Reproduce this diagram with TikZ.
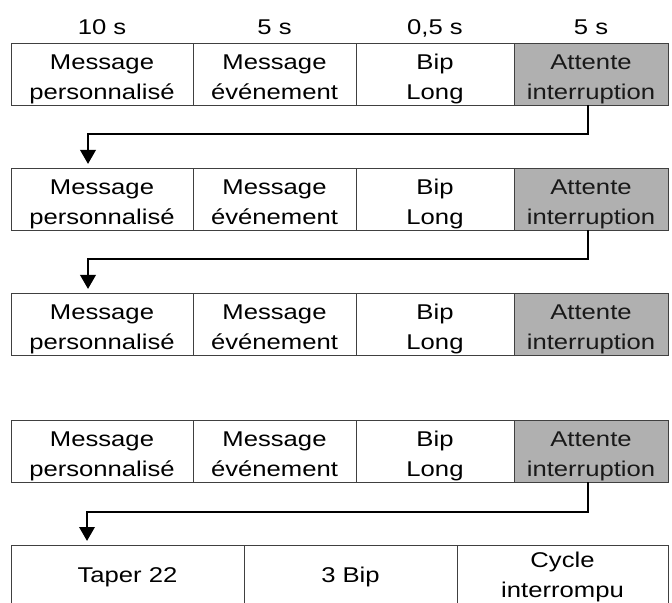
\documentclass[tikz,border=0pt]{standalone}
\usepackage{fontspec}
\setmainfont{Liberation Sans}[FakeStretch=1.2]
\usetikzlibrary{arrows.meta}
\definecolor{waitgray}{RGB}{176,176,176}

\begin{document}
\begin{tikzpicture}[x=0.25mm,y=-0.25mm,font=\fontsize{15.2}{21.3}\selectfont,
  cell/.style={draw=black!75,line width=0.7pt,anchor=north west,align=center,
    inner sep=0pt,outer sep=0pt,minimum height=15.5mm},
  wait/.style={cell,fill=waitgray,text=black!90},
  flow/.style={line width=2pt,-{Triangle[length=3.5mm,width=3.8mm]},shorten >=1mm}]
\def\two#1#2{\rule{0pt}{17.6pt}#1\\#2\rule[-3.3pt]{0pt}{3.3pt}}
\useasboundingbox (0,0) rectangle (672,603);
\clip (0,0) rectangle (672,603);
\foreach \r/\y in {1/43, 2/168, 3/293, 4/420} {
  \node[cell,minimum width=45.5mm] (p\r) at (11,\y) {\two{Message}{personnalisé}};
  \node[cell,minimum width=40.75mm] (e\r) at (193,\y) {\two{Message}{événement}};
  \node[cell,minimum width=39.5mm] (b\r) at (356,\y) {\two{Bip}{Long}};
  \node[wait,minimum width=38.5mm] (w\r) at (514,\y) {\two{Attente}{interruption}};
}
\foreach \c/\nm/\lab in {p/dur1/{10 s}, e/dur2/{5 s}, b/dur3/{0,5 s}, w/dur4/{5 s}}
  \node[anchor=base] (\nm) at ([yshift=2mm]\c1.north) {\lab};
\node[cell,minimum width=58.25mm,minimum height=16mm] (tap) at (11,545) {Taper 22};
\node[cell,minimum width=53.25mm,minimum height=16mm] (bip3) at (244,545) {3 Bip};
\node[cell,minimum width=52.75mm,minimum height=16mm] (cyc) at (457,545) {Cycle\\interrompu};
\coordinate (drop) at ([xshift=19mm]tap.north west);
\draw[flow] ([xshift=-0.75mm]w1.south) -- ++(0,29) -| ([xshift=-3.5mm]p2.north);
\draw[flow] ([xshift=-0.75mm]w2.south) -- ++(0,29) -| ([xshift=-3.5mm]p3.north);
\draw[flow] ([xshift=-0.75mm]w4.south) -- ++(0,30) -| (drop);
\end{tikzpicture}
\end{document}
